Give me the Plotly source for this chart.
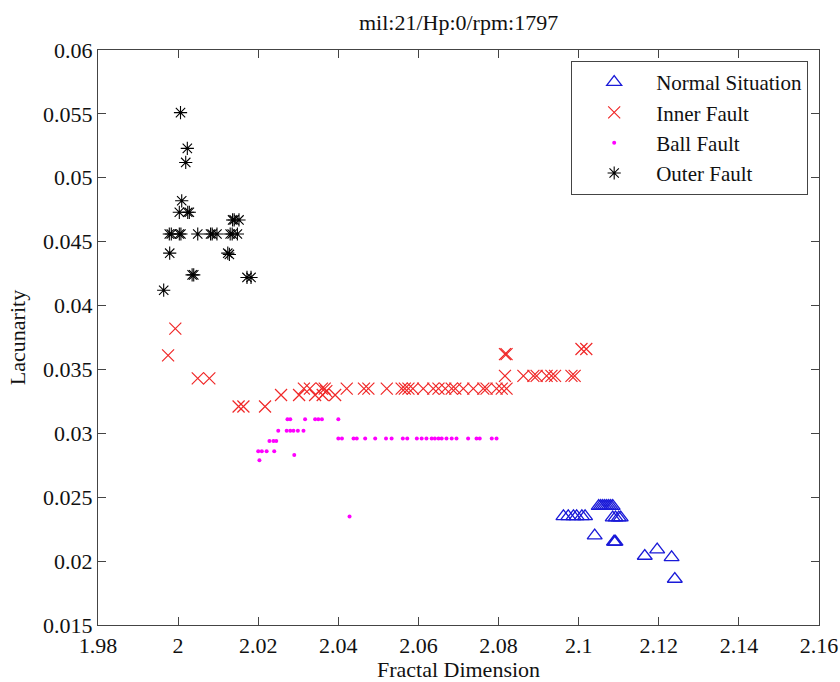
import plotly.graph_objects as go

# Normal situation
normal_x = [2.0962, 2.0974, 2.0987, 2.0995, 2.1008, 2.1016,
            2.1050, 2.1055, 2.1060, 2.1065, 2.1070, 2.1075, 2.1080, 2.1085,
            2.1085, 2.1092, 2.1100, 2.1105,
            2.1040, 2.1088, 2.1090, 2.1092,
            2.1165, 2.1196, 2.1232, 2.1240]
normal_y = [0.0235, 0.0235, 0.0235, 0.0235, 0.0235, 0.0235,
            0.0243, 0.0243, 0.0243, 0.0243, 0.0243, 0.0243, 0.0243, 0.0243,
            0.0234, 0.0234, 0.0234, 0.0234,
            0.0220, 0.0215, 0.0215, 0.0215,
            0.0204, 0.0209, 0.0203, 0.0186]

# Inner race fault
inner_x = [1.9975, 1.9993, 2.0049, 2.0078, 2.0151, 2.0163, 2.0217,
           2.0257, 2.0302, 2.0314, 2.0329, 2.0342, 2.0359, 2.0361, 2.0366, 2.0370,
           2.0392, 2.0421, 2.0464, 2.0475, 2.0521, 2.0558, 2.0566, 2.0575, 2.0586,
           2.0612, 2.0637, 2.0650, 2.0667, 2.0683, 2.0692, 2.0712, 2.0737,
           2.0762, 2.0770, 2.0795, 2.0808, 2.0820,
           2.0816, 2.0816, 2.0820,
           2.0862, 2.0887, 2.0895, 2.0920, 2.0932, 2.0941, 2.0982, 2.0990,
           2.1007, 2.1019]
inner_y = [0.0361, 0.0382, 0.0343, 0.0343, 0.0321, 0.0321, 0.0321,
           0.0330, 0.0330, 0.0335, 0.0335, 0.0330, 0.0335, 0.0330, 0.0335, 0.0333,
           0.0330, 0.0335, 0.0335, 0.0335, 0.0335, 0.0335, 0.0335, 0.0335, 0.0335,
           0.0335, 0.0335, 0.0335, 0.0335, 0.0335, 0.0335, 0.0335, 0.0335,
           0.0335, 0.0335, 0.0335, 0.0335, 0.0335,
           0.0345, 0.0362, 0.0362,
           0.0345, 0.0345, 0.0345, 0.0345, 0.0345, 0.0345, 0.0345, 0.0345,
           0.0366, 0.0366]

# Ball fault
ball_x = [2.0203, 2.0200, 2.0209, 2.0221, 2.0228, 2.0238, 2.0245, 2.0240,
          2.0250, 2.0271, 2.0280, 2.0288, 2.0299, 2.0313, 2.0273, 2.0280,
          2.0290, 2.0317, 2.0342, 2.0350, 2.0359, 2.0400,
          2.0400, 2.0409, 2.0438, 2.0446, 2.0467, 2.0492, 2.0519, 2.0533,
          2.0561, 2.0572, 2.0596,
          2.0608, 2.0620, 2.0633, 2.0641, 2.0650, 2.0658, 2.0670, 2.0683,
          2.0695, 2.0724, 2.0745, 2.0753, 2.0783, 2.0795,
          2.0428]
ball_y = [0.0279, 0.0286, 0.0286, 0.0286, 0.0294, 0.0294, 0.0294, 0.0286,
          0.0302, 0.0302, 0.0302, 0.0302, 0.0302, 0.0302, 0.0311, 0.0311,
          0.0283, 0.0311, 0.0311, 0.0311, 0.0311, 0.0311,
          0.0296, 0.0296, 0.0296, 0.0296, 0.0296, 0.0296, 0.0296, 0.0296,
          0.0296, 0.0296, 0.0296,
          0.0296, 0.0296, 0.0296, 0.0296, 0.0296, 0.0296, 0.0296, 0.0296,
          0.0296, 0.0296, 0.0296, 0.0296, 0.0296, 0.0296,
          0.0235]

# Outer race fault
outer_x = [2.0006, 2.0023, 2.0019, 2.0009, 2.0003, 2.0024, 2.0028,
           1.9978, 1.9983, 2.0003, 2.0007, 1.9979, 1.9964, 2.0035, 2.0039,
           2.0049, 2.0081, 2.0085, 2.0097, 2.0130, 2.0135, 2.0148,
           2.0136, 2.0140, 2.0152, 2.0124, 2.0128, 2.0172, 2.0182]
outer_y = [0.0551, 0.0523, 0.0512, 0.0482, 0.0473, 0.0473, 0.0473,
           0.0456, 0.0456, 0.0456, 0.0456, 0.0441, 0.0412, 0.0424, 0.0424,
           0.0456, 0.0456, 0.0456, 0.0456, 0.0456, 0.0456, 0.0456,
           0.0467, 0.0467, 0.0467, 0.0441, 0.0440, 0.0422, 0.0422]

x_ticks = [1.98, 2.0, 2.02, 2.04, 2.06, 2.08, 2.1, 2.12, 2.14, 2.16]
x_tick_text = ["1.98", "2", "2.02", "2.04", "2.06", "2.08", "2.1", "2.12", "2.14", "2.16"]
y_ticks = [0.015, 0.02, 0.025, 0.03, 0.035, 0.04, 0.045, 0.05, 0.055, 0.06]
y_tick_text = ["0.015", "0.02", "0.025", "0.03", "0.035", "0.04", "0.045", "0.05", "0.055", "0.06"]

FONT = "Liberation Serif, Times New Roman, serif"
INK = "#111111"

fig = go.Figure()
fig.add_trace(go.Scatter(
    x=normal_x, y=normal_y, mode="markers", name="Normal Situation",
    marker=dict(symbol="triangle-up-open", size=13, color="#1a1ad8",
                line=dict(width=1.3, color="#1a1ad8"))))
fig.add_trace(go.Scatter(
    x=inner_x, y=inner_y, mode="markers", name="Inner Fault",
    marker=dict(symbol="x-thin-open", size=12, color="#f02828",
                line=dict(width=1.2, color="#f02828"))))
fig.add_trace(go.Scatter(
    x=ball_x, y=ball_y, mode="markers", name="Ball Fault",
    marker=dict(symbol="circle", size=4, color="#ff00ff", line=dict(width=0))))
fig.add_trace(go.Scatter(
    x=outer_x, y=outer_y, mode="markers", name="Outer Fault",
    marker=dict(symbol="asterisk-open", size=11, color="#000000",
                line=dict(width=1.1, color="#000000"))))

axis_common = dict(
    automargin=False,
    showline=True, linecolor="#444444", linewidth=1.3, mirror="ticks",
    ticks="inside", ticklen=8, tickwidth=1.2, tickcolor="#444444",
    showgrid=False, zeroline=False,
    tickfont=dict(family=FONT, size=22, color=INK),
)

fig.update_layout(
    template="none",
    width=840, height=682,
    margin=dict(l=98, r=21, t=50, b=57),
    paper_bgcolor="white", plot_bgcolor="white",
    font=dict(family=FONT, size=22, color=INK),
    title=dict(text="mil:21/Hp:0/rpm:1797", x=0.5459, xanchor="center",
               y=0.967, yanchor="middle",
               font=dict(family=FONT, size=22, color=INK)),
    xaxis=dict(range=[1.98, 2.16], tickvals=x_ticks, ticktext=x_tick_text,
               title=dict(text="Fractal Dimension", standoff=6,
                          font=dict(family=FONT, size=22, color=INK)),
               **axis_common),
    yaxis=dict(range=[0.015, 0.06], tickvals=y_ticks, ticktext=y_tick_text,
               title=dict(text="Lacunarity", standoff=11,
                          font=dict(family=FONT, size=22, color=INK)),
               **axis_common),
    legend=dict(x=0.985, y=0.981, xanchor="right", yanchor="top",
                bgcolor="white", bordercolor="#444444", borderwidth=1,
                font=dict(family=FONT, size=21, color=INK),
                itemwidth=74, tracegroupgap=0),
    showlegend=True,
)

fig.write_html("out.html")
